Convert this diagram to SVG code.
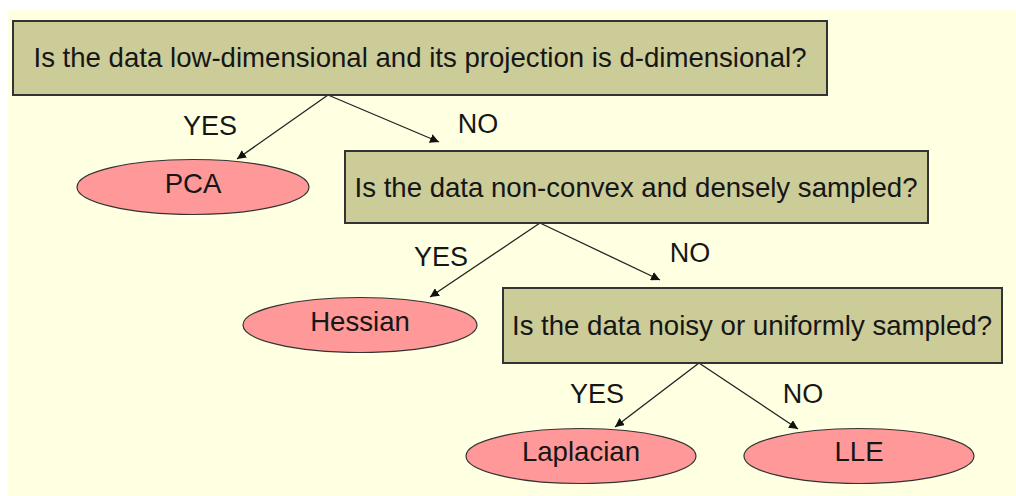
<svg xmlns="http://www.w3.org/2000/svg" width="1016" height="496" viewBox="0 0 1016 496">
  <defs>
    <marker id="arrow" viewBox="0 0 10 10" refX="10" refY="5" markerWidth="9" markerHeight="9" markerUnits="userSpaceOnUse" orient="auto">
      <path d="M0,0 L10,5 L0,10 z" fill="#111"/>
    </marker>
    <style>
      .q { fill: #cccc99; stroke: #333; stroke-width: 2; }
      .leaf { fill: #ff9999; stroke: #333; stroke-width: 1.2; }
      .t { font-family: "Liberation Sans", Arial, sans-serif; fill: #161616; text-anchor: middle; }
      .qt { font-size: 27.6px; }
      .lt { font-size: 27.6px; }
      .edge { stroke: #222; stroke-width: 1.3; fill: none; marker-end: url(#arrow); }
      .el { font-family: "Liberation Sans", Arial, sans-serif; fill: #161616; font-size: 27px; text-anchor: middle; }
    </style>
  </defs>

  <rect x="0" y="0" width="1016" height="496" fill="#ffffff"/>
  <rect x="8" y="10" width="1008" height="486" fill="#ffffe2"/>

  <!-- connectors -->
  <g id="connectors">
    <line class="edge" x1="328" y1="95" x2="237" y2="159"/>
    <line class="edge" x1="328" y1="95" x2="439" y2="142"/>
    <line class="edge" x1="540" y1="223" x2="430" y2="297"/>
    <line class="edge" x1="540" y1="223" x2="660" y2="280"/>
    <line class="edge" x1="699" y1="363" x2="615" y2="427"/>
    <line class="edge" x1="699" y1="363" x2="798" y2="429"/>
    <text class="el" x="210" y="135">YES</text>
    <text class="el" x="478" y="133">NO</text>
    <text class="el" x="441" y="266">YES</text>
    <text class="el" x="690" y="262">NO</text>
    <text class="el" x="597" y="403">YES</text>
    <text class="el" x="803" y="403">NO</text>
  </g>

  <g id="q1">
    <rect class="q" x="13" y="21" width="814" height="74"/>
    <text class="t qt" x="420" y="67">Is the data low-dimensional and its projection is d-dimensional?</text>
  </g>

  <g id="pca">
    <ellipse class="leaf" cx="193" cy="187" rx="116" ry="27.5"/>
    <text class="t lt" x="193" y="193">PCA</text>
  </g>

  <g id="q2">
    <rect class="q" x="345" y="151" width="583" height="72"/>
    <text class="t qt" x="636" y="197">Is the data non-convex and densely sampled?</text>
  </g>

  <g id="hessian">
    <ellipse class="leaf" cx="360" cy="325" rx="117" ry="27.5"/>
    <text class="t lt" x="360" y="331">Hessian</text>
  </g>

  <g id="q3">
    <rect class="q" x="503" y="288" width="499" height="75"/>
    <text class="t qt" x="752" y="335">Is the data noisy or uniformly sampled?</text>
  </g>

  <g id="laplacian">
    <ellipse class="leaf" cx="581" cy="456" rx="115" ry="27.5"/>
    <text class="t lt" x="581" y="461">Laplacian</text>
  </g>

  <g id="lle">
    <ellipse class="leaf" cx="859" cy="456" rx="115" ry="27.5"/>
    <text class="t lt" x="859" y="461">LLE</text>
  </g>
</svg>
